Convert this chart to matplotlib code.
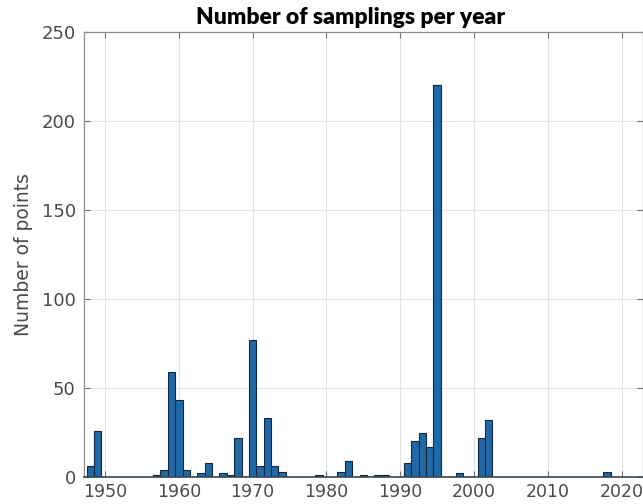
import matplotlib
matplotlib.use("Agg")
import matplotlib.pyplot as plt
import numpy as np

# Sampling counts per year
years = list(range(1948, 2021))
counts_by_year = {
    1948: 6, 1949: 26,
    1957: 1, 1958: 4, 1959: 59, 1960: 43, 1961: 4,
    1963: 2, 1964: 8, 1966: 2, 1967: 1, 1968: 22,
    1970: 77, 1971: 6, 1972: 33, 1973: 6, 1974: 3,
    1979: 1, 1982: 3, 1983: 9, 1985: 1, 1987: 1, 1988: 1,
    1991: 8, 1992: 20, 1993: 25, 1994: 17, 1995: 220,
    1998: 2, 2001: 22, 2002: 32, 2018: 3,
}
counts = [counts_by_year.get(y, 0) for y in years]

x_ticks = [1950, 1960, 1970, 1980, 1990, 2000, 2010, 2020]
y_ticks = [0, 50, 100, 150, 200, 250]

fig = plt.figure(figsize=(6.43, 5.04), dpi=100)
ax = fig.add_axes([84 / 643, 27 / 504, 559 / 643, 445 / 504])

ax.bar(years, counts, width=1.0, color="#1f69a8", edgecolor="#14263a",
       linewidth=0.8, zorder=3)

ax.set_xlim(1947.15, 2022.9)
ax.set_ylim(0, 250)
ax.set_xticks(x_ticks)
ax.set_yticks(y_ticks)
ax.grid(True, color="#e3e3e3", linewidth=0.8, zorder=0)
ax.tick_params(direction="in", length=4, color="#707070", top=True,
               right=True, labelcolor="#4a4a4a")
ax.tick_params(axis="x", labelsize=12.5, pad=4)
ax.tick_params(axis="y", labelsize=13, pad=6)
for s in ax.spines.values():
    s.set_color("#8c8c8c")
    s.set_linewidth(0.9)
ax.spines["bottom"].set_color("#3a4550")
ax.spines["bottom"].set_linewidth(1.2)
ax.spines["bottom"].set_zorder(4)

ax.set_ylabel("Number of points", fontsize=13.5, color="#4a4a4a", labelpad=6)

fig.text(351 / 643, 1 - 18 / 504, "Number of samplings per year",
         ha="center", va="center", fontsize=16.5, fontweight="heavy",
         family="Lato", color="black")

fig.savefig("out.png", dpi=100)
